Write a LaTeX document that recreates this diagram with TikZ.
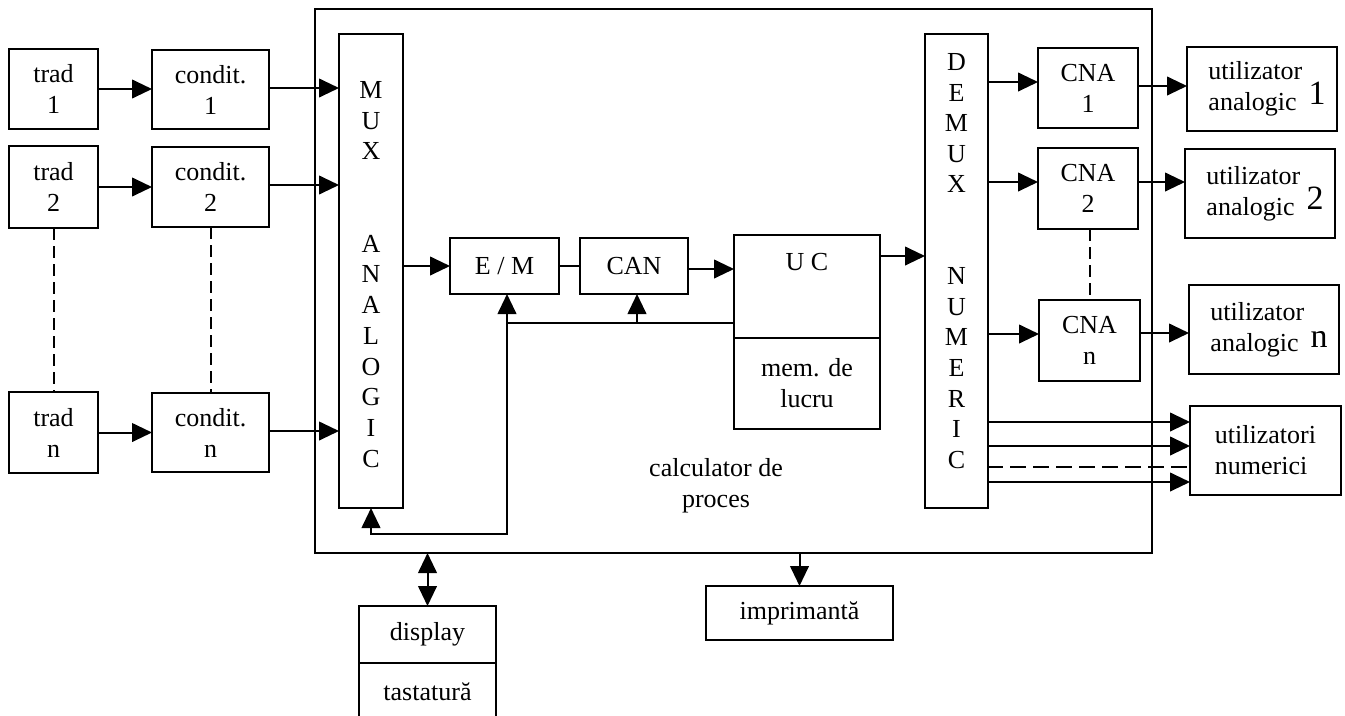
\documentclass[tikz,border=0pt]{standalone}
\usepackage{fontspec}
\setmainfont{Liberation Serif}
\usetikzlibrary{arrows.meta,calc}
\newcommand\mainfs{\fontsize{19.5pt}{23.25pt}\selectfont}
\newcommand\bigfs{\fontsize{25.5pt}{25.5pt}\selectfont}
\tikzset{
  box/.style={draw,line width=1.5pt,inner sep=0pt,outer sep=0pt,align=center,font=\mainfs},
  txt/.style={inner sep=0pt,outer sep=0pt,align=center,font=\mainfs},
  ln/.style={line width=1.5pt},
  arr/.style={line width=1.5pt,-{Triangle[length=15pt,width=14pt]}},
  dbl/.style={line width=1.5pt,{Triangle[length=15pt,width=14pt]}-{Triangle[length=15pt,width=14pt]}},
  dashv/.style={line width=1.5pt,dash pattern=on 9pt off 4.5pt},
  dashh/.style={line width=1.5pt,dash pattern=on 12pt off 5.25pt},
}
\newcommand\pbox[7][]{%
  \pgfmathsetmacro\pbw{(#5-#3)*0.75}%
  \pgfmathsetmacro\pbh{(#6-#4)*0.75}%
  \node[box,minimum width=\pbw pt,minimum height=\pbh pt,#1] (#2) at ({(#3+#5)/2},{(#4+#6)/2}) {#7};}
\begin{document}
\begin{tikzpicture}[x=0.75pt,y=-0.75pt]
\useasboundingbox (0,0) rectangle (1345,715);
% outer computer box
\pbox{cpu}{315}{9}{1152}{553}{}
% inputs
\pbox{trad1}{9}{49}{98}{129}{trad\\1}
\pbox{cond1}{152}{50}{269}{129}{condit.\\1}
\pbox{trad2}{9}{146}{98}{228}{trad\\2}
\pbox{cond2}{152}{147}{269}{227}{condit.\\2}
\pbox{tradn}{9}{392}{98}{473}{trad\\n}
\pbox{condn}{152}{393}{269}{472}{condit.\\n}
% inside
\pbox{mux}{339}{34}{403}{508}{}
\node[txt,font=\fontsize{19.5pt}{23.06pt}\selectfont] (muxt) at (371,274.5) {M\\U\\X\\[46.1pt]A\\N\\A\\L\\O\\G\\I\\C};
\pbox{em}{450}{238}{559}{294}{E / M}
\pbox{can}{580}{238}{688}{294}{CAN}
\pbox{uc}{734}{235}{880}{338}{}
\node[txt] (uct) at (807,262) {U C};
\pbox{mem}{734}{338}{880}{429}{mem. de\\lucru}
\pbox{dmx}{925}{34}{988}{508}{}
\node[txt,font=\fontsize{19.5pt}{22.95pt}\selectfont] (dmxt) at (956.5,261) {D\\E\\M\\U\\X\\[45.9pt]N\\U\\M\\E\\R\\I\\C};
\pbox{cna1}{1038}{48}{1138}{128}{CNA\\1}
\pbox{cna2}{1038}{148}{1138}{229}{CNA\\2}
\pbox{cnan}{1039}{300}{1140}{381}{CNA\\n}
\node[txt] (calclbl) at (716,485.5) {calculator de\\proces};
% outputs
\pbox[align=left]{ua1}{1187}{47}{1337}{131}{\hspace*{7.5pt}utilizator\\\hspace*{7.5pt}analogic\hspace{9pt}\raisebox{5pt}{\bigfs 1}}
\pbox[align=left]{ua2}{1185}{149}{1335}{238}{\hspace*{7.5pt}utilizator\\\hspace*{7.5pt}analogic\hspace{9pt}\raisebox{4pt}{\bigfs 2}}
\pbox[align=left]{uan}{1189}{285}{1339}{374}{\hspace*{7.5pt}utilizator\\\hspace*{7.5pt}analogic\hspace{9pt}\raisebox{3pt}{\bigfs n}}
\pbox[align=left]{un}{1190}{406}{1341}{495}{utilizatori\\numerici}
\pbox{disp}{359}{606}{496}{663}{display}
\node[txt] (tast) at (427.5,692) {tastatură};
\draw[ln] (disp.south west) -- ++(0,60);
\draw[ln] (disp.south east) -- ++(0,60);
\pbox{impr}{706}{586}{893}{640}{imprimantă}
% input connectors
\draw[arr] (trad1.east) -- (trad1.east -| cond1.west);
\draw[arr] ($(cond1.east)+(0,-1.5)$) coordinate (c1) -- (c1 -| mux.west);
\draw[arr] (trad2.east) -- (trad2.east -| cond2.west);
\draw[arr] ($(cond2.east)+(0,-2)$) coordinate (c2) -- (c2 -| mux.west);
\draw[arr] (tradn.east) -- (tradn.east -| condn.west);
\draw[arr] ($(condn.east)+(0,-1.5)$) coordinate (c3) -- (c3 -| mux.west);
\draw[dashv] (trad2.south) -- (tradn.north);
\draw[dashv] (cond2.south) -- (condn.north);
% chain
\draw[arr] (mux.east |- em.west) -- (em.west);
\draw[ln] (em.east) -- (can.west);
\draw[arr] ($(can.east)+(0,3)$) coordinate (c4) -- (c4 -| uc.west);
\draw[arr] ($(uc.north east)+(0,21)$) coordinate (c5) -- (c5 -| dmx.west);
% feedback
\path ($(uc.west)+(0,36.5)$) coordinate (f1);
\coordinate (f2) at (507,323);
\coordinate (f3) at (507,534);
\draw[ln] (f1) -- (f2) -- ($(f3)+(0,1)$);
\draw[arr] (f2) -- (f2 |- em.south);
\path ($(can.south)+(3,0)$) coordinate (f4);
\draw[arr] (f4 |- f2) -- (f4);
\draw[arr] (f3) -- (f3 -| mux.south) -- (mux.south);
% demux to CNA
\path ($(cna1.west)+(0,-6)$) coordinate (d1);
\path ($(cna2.west)+(0,-6.5)$) coordinate (d2);
\path ($(cnan.west)+(0,-6.5)$) coordinate (d3);
\draw[arr] (d1 -| dmx.east) -- (d1);
\draw[arr] (d2 -| dmx.east) -- (d2);
\draw[arr] (d3 -| dmx.east) -- (d3);
\draw[dashv] (cnan.north |- cna2.south) -- (cnan.north);
% CNA to users
\draw[arr] ($(cna1.east)+(0,-2)$) coordinate (e1) -- (e1 -| ua1.west);
\draw[arr] ($(cna2.east)+(0,-6.5)$) coordinate (e2) -- (e2 -| ua2.west);
\draw[arr] ($(cnan.east)+(0,-7.5)$) coordinate (e3) -- (e3 -| uan.west);
% numeric users
\path ($(un.west)+(0,-28.5)$) coordinate (n1);
\path ($(un.west)+(0,-4.5)$) coordinate (n2);
\path ($(un.west)+(0,16.5)$) coordinate (n3);
\path ($(un.west)+(0,31.5)$) coordinate (n4);
\draw[arr] (n1 -| dmx.east) -- (n1);
\draw[arr] (n2 -| dmx.east) -- (n2);
\draw[dashh] ($(n3 -| dmx.east)+(-1,0)$) -- ($(n3)+(3,0)$);
\draw[arr] (n4 -| dmx.east) -- (n4);
% peripherals
\draw[dbl] (disp.north |- cpu.south) -- (disp.north);
\draw[arr] (impr.north |- cpu.south) -- (impr.north);
\end{tikzpicture}
\end{document}
